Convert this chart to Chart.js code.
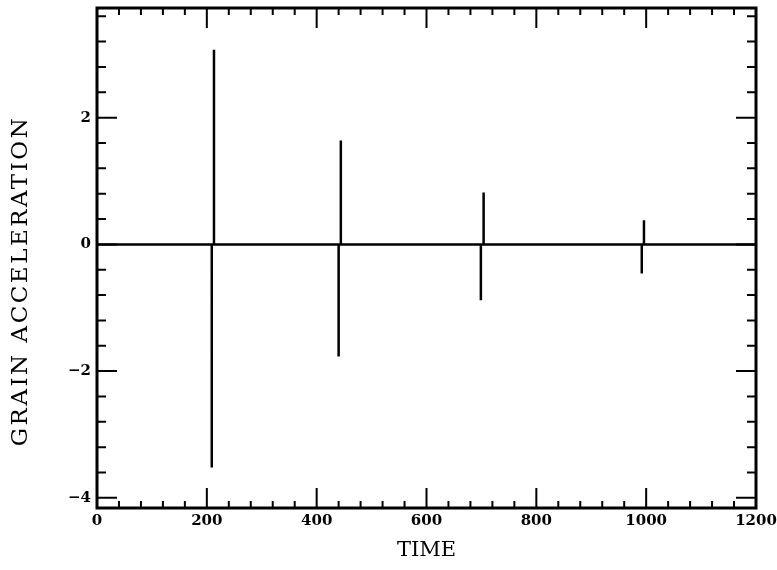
<!DOCTYPE html>
<html>
<head>
<meta charset="utf-8">
<script src="https://cdn.jsdelivr.net/npm/chart.js@4"></script>
<style>
  html, body { margin: 0; padding: 0; background: #fff; }
</style>
</head>
<body>
<canvas id="accelChart" width="777" height="570"></canvas>
<script>
// values
const timeRange = [0, 1200];
const troughTimes = [209, 440, 699, 992];
const troughValues = [-3.52, -1.77, -0.88, -0.46];
const peakTimes = [213, 444, 704, 996];
const peakValues = [3.07, 1.64, 0.82, 0.38];

const xTickValues = [0, 200, 400, 600, 800, 1000, 1200];
const yTickValues = [-4, -2, 0, 2];
const xMinorStep = 40;
const yMinorStep = 0.4;

// baseline with each pulse drawn as a down/up excursion
const points = [{ x: timeRange[0], y: 0 }];
troughTimes.forEach((t, i) => {
  points.push({ x: t, y: 0 }, { x: t, y: troughValues[i] }, { x: t, y: 0 });
  points.push({ x: peakTimes[i], y: 0 }, { x: peakTimes[i], y: peakValues[i] }, { x: peakTimes[i], y: 0 });
});
points.push({ x: timeRange[1], y: 0 });

const frameTicks = {
  id: 'frameTicks',
  afterDatasetsDraw(chart) {
    const { ctx, chartArea: a, scales: { x, y } } = chart;
    ctx.save();
    ctx.strokeStyle = '#000';
    ctx.lineWidth = 2;
    ctx.beginPath();
    const nx = Math.round((timeRange[1] - timeRange[0]) / xMinorStep);
    for (let i = 0; i <= nx; i++) {
      const v = timeRange[0] + i * xMinorStep;
      const px = x.getPixelForValue(v);
      const len = i % 5 === 0 ? 20 : 7;
      ctx.moveTo(px, a.bottom); ctx.lineTo(px, a.bottom - len);
      ctx.moveTo(px, a.top); ctx.lineTo(px, a.top + len);
    }
    for (let i = -10; i <= 9; i++) {
      const v = i * yMinorStep;
      if (v < y.min || v > y.max) continue;
      const py = y.getPixelForValue(v);
      const len = i % 5 === 0 ? 20 : 9;
      ctx.moveTo(a.left, py); ctx.lineTo(a.left + len, py);
      ctx.moveTo(a.right, py); ctx.lineTo(a.right - len, py);
    }
    ctx.stroke();
    ctx.lineWidth = 3;
    ctx.strokeRect(a.left, a.top, a.right - a.left, a.bottom - a.top);

    // y axis title, spaced out like the original
    ctx.translate(21, 281);
    ctx.rotate(-Math.PI / 2);
    ctx.font = '23px "DejaVu Serif"';
    ctx.letterSpacing = '2.5px';
    ctx.fillStyle = '#000';
    ctx.textAlign = 'center';
    ctx.textBaseline = 'middle';
    ctx.fillText('GRAIN ACCELERATION', 0, 0);
    ctx.restore();
  }
};

const tickFont = { family: 'DejaVu Serif', weight: 'bold', size: 15 };

new Chart(document.getElementById('accelChart'), {
  type: 'line',
  data: {
    datasets: [{
      data: points,
      borderColor: '#000',
      borderWidth: 2.5,
      borderJoinStyle: 'bevel',
      pointRadius: 0,
      tension: 0,
      fill: false
    }]
  },
  options: {
    responsive: false,
    animation: false,
    layout: { padding: { top: 8, right: 21, left: 0, bottom: 0 } },
    plugins: { legend: { display: false }, tooltip: { enabled: false } },
    scales: {
      x: {
        type: 'linear',
        min: timeRange[0],
        max: timeRange[1],
        grid: { display: false, drawTicks: false, tickLength: 0 },
        border: { display: false },
        afterBuildTicks: s => { s.ticks = xTickValues.map(v => ({ value: v })); },
        afterFit: s => { s.height = 62; s.paddingLeft = 0; s.paddingRight = 0; },
        ticks: { color: '#000', font: tickFont, padding: 4, maxRotation: 0, callback: v => String(v) },
        title: {
          display: true,
          text: 'TIME',
          color: '#000',
          font: { family: 'DejaVu Serif', size: 21 },
          padding: { top: 4, bottom: 7 }
        }
      },
      y: {
        type: 'linear',
        min: -4.16,
        max: 3.73,
        grid: { display: false, drawTicks: false, tickLength: 0 },
        border: { display: false },
        afterBuildTicks: s => { s.ticks = yTickValues.map(v => ({ value: v })); },
        afterFit: s => { s.width = 97; s.paddingTop = 0; s.paddingBottom = 0; },
        ticks: {
          color: '#000',
          font: tickFont,
          padding: 6,
          callback: v => String(v).replace('-', '\u2212')
        }
      }
    }
  },
  plugins: [frameTicks]
});
</script>
</body>
</html>
